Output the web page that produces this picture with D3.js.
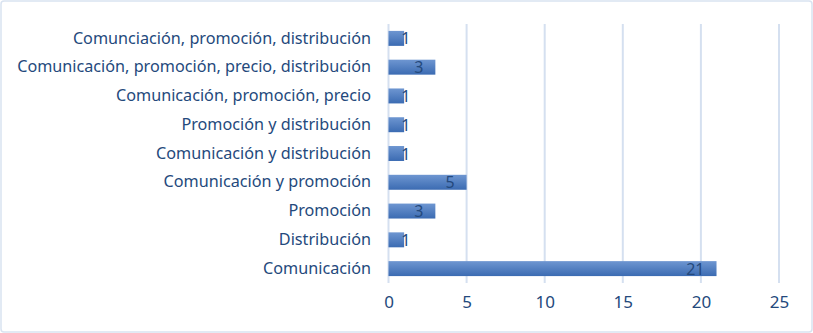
<!DOCTYPE html>
<html>
<head>
<meta charset="utf-8">
<script src="https://cdn.jsdelivr.net/npm/d3@7"></script>
<style>
  body { margin: 0; background: #fff; }
  svg { display: block; }
</style>
</head>
<body>
<svg id="chart" width="813" height="333"></svg>
<script>
// categories from top to bottom
const categories = [
    "Comunciación, promoción, distribución",
    "Comunicación, promoción, precio, distribución",
    "Comunicación, promoción, precio",
    "Promoción y distribución",
    "Comunicación y distribución",
    "Comunicación y promoción",
    "Promoción",
    "Distribución",
    "Comunicación"
]
const values = [1, 3, 1, 1, 1, 5, 3, 1, 21]
const xTicks = [0, 5, 10, 15, 20, 25]

const TEXT = "#24497c",
    GRID = "#d5e0f0",
    FONT = "'Noto Sans', sans-serif"

const svg = d3.select("#chart")

svg.append("rect")
    .attr("x", 1).attr("y", 1)
    .attr("width", 811).attr("height", 331)
    .attr("rx", 3)
    .style("fill", "#fff")
    .style("stroke", "#d9e3f1")
    .style("stroke-width", 1.5)

const defs = svg.append("defs")
const grad = defs.append("linearGradient")
    .attr("id", "barGrad")
    .attr("x1", 0).attr("y1", 0).attr("x2", 0).attr("y2", 1)
grad.append("stop").attr("offset", "0%").attr("stop-color", "#6e96d1")
grad.append("stop").attr("offset", "100%").attr("stop-color", "#3b6bb2")

const x = d3.scaleLinear().domain([0, 25]).range([388.5, 779])
const y = d3.scaleBand().domain(categories).range([24, 283]).paddingInner(0.48).paddingOuter(0.24)

// gridlines
svg.append("g")
    .selectAll("line")
    .data(xTicks)
    .join("line")
    .attr("x1", d => x(d)).attr("x2", d => x(d))
    .attr("y1", 24).attr("y2", 283)
    .style("stroke", GRID)
    .style("stroke-width", 2)

// bars
svg.append("g")
    .selectAll("rect")
    .data(values)
    .join("rect")
    .attr("x", x(0))
    .attr("y", (d, i) => y(categories[i]))
    .attr("width", d => x(d) - x(0))
    .attr("height", y.bandwidth())
    .style("fill", "url(#barGrad)")

// data labels
svg.append("g")
    .selectAll("text")
    .data(values)
    .join("text")
    .attr("x", d => Math.max(x(d) - 12, x(0) + 22))
    .attr("y", (d, i) => y(categories[i]) + y.bandwidth() / 2)
    .attr("dy", "0.38em")
    .attr("text-anchor", "end")
    .text(d => d)
    .style("font-family", FONT)
    .style("font-size", "16px")
    .style("fill", TEXT)

// y axis labels
svg.append("g")
    .attr("transform", `translate(${371}, 0)`)
    .call(d3.axisLeft(y).tickSize(0).tickPadding(0))
    .call(g => g.select(".domain").remove())
    .selectAll("text")
    .style("font-family", FONT)
    .style("font-size", "16.2px")
    .style("fill", TEXT)

// x axis labels
svg.append("g")
    .attr("transform", `translate(0, ${283})`)
    .call(d3.axisBottom(x).tickValues(xTicks).tickSize(0).tickPadding(13))
    .call(g => g.select(".domain").remove())
    .selectAll("text")
    .style("font-family", FONT)
    .style("font-size", "17px")
    .style("fill", TEXT)
</script>
</body>
</html>
